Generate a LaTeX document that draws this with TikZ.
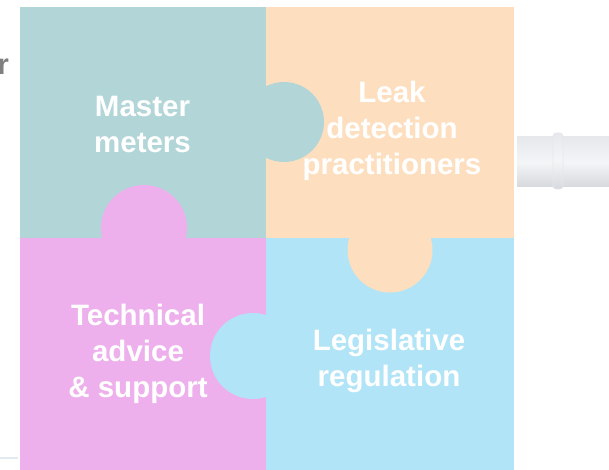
\documentclass[tikz,border=0pt]{standalone}
\usepackage{fontspec}
\setmainfont{Liberation Sans}
\definecolor{teal}{HTML}{B2D5D8}
\definecolor{peach}{HTML}{FDDFC0}
\definecolor{pink}{HTML}{EDB0EC}
\definecolor{sky}{HTML}{B1E4F7}
\definecolor{pipelight}{HTML}{F4F5F7}
\definecolor{pipemid}{HTML}{E6E8EB}
\definecolor{pipedark}{HTML}{D6D9DD}
\tikzset{
  lbl/.style={text=white, font=\fontsize{29.5}{36}\selectfont\bfseries, align=center},
}
\begin{document}
\begin{tikzpicture}[x=1pt,y=-1pt]
\useasboundingbox (0,0) rectangle (609,470);
\fill[white] (0,0) rectangle (609,470);
% faint line bottom left
\draw[color={rgb,255:red,226;green,234;blue,240}, line width=1.5pt] (0,458) -- (18,458);
% cropped gray letter
\node[anchor=base east, inner sep=0pt, text={rgb,255:red,128;green,128;blue,128}, font=\fontsize{29}{34}\selectfont\bfseries] (r) at (9,75) {r};
% pipe
\shade[top color=pipemid, bottom color=pipedark, middle color=pipelight] (517,137) rectangle (609,187);
\shade[top color=pipemid, bottom color=pipedark, middle color=pipelight, draw=pipemid, line width=0.6pt, rounded corners=3pt] (553,133) rectangle (563,189);
% quadrants
\fill[teal] (20,7) rectangle (266,238);
\fill[peach] (266,7) rectangle (514,238);
\fill[pink] (20,238) rectangle (266,470);
\fill[sky] (266,238) rectangle (514,470);
% tabs
\fill[teal] (284,122) circle[radius=40];
\fill[pink] (144,228) circle[radius=43];
\fill[peach] (390,250) circle[radius=42.5];
\fill[sky] (253,356) circle[radius=43];
% labels (anchor base = baseline of last line)
\node[lbl, anchor=base] (master) at (142.5,153) {Master\\meters};
\node[lbl, anchor=base] (leak) at (392,175) {Leak\\detection\\practitioners};
\node[lbl, anchor=base] (tech) at (138,397) {Technical\\advice\\\& support};
\node[lbl, anchor=base] (legis) at (389,386) {Legislative\\regulation};
\end{tikzpicture}
\end{document}
